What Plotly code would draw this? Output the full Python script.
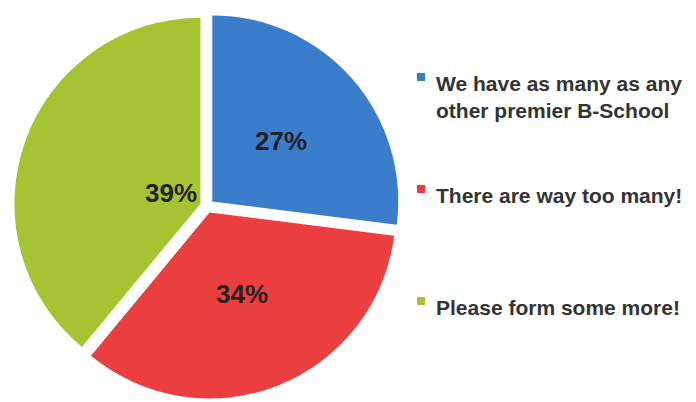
import math
import plotly.graph_objects as go

# ---- data ----
labels = ["We have as many as any<br>other premier B-School",
          "There are way too many!",
          "Please form some more!"]
values = [27, 34, 39]
colors = ["#3a7ecb", "#ea3e3f", "#a6c332"]

# ---- styling / geometry ----
W, H = 696, 402
CX, CY, R = 207, 206, 186          # pie centre (px) and radius (px)
PULL = 0.0376
label_rfrac = [0.49, 0.47, 0.17]   # radial placement of percentage labels

def px_x(x):
    return x / W

def px_y(y):
    return 1 - y / H

rmax = R * (1 + PULL)

fig = go.Figure()
fig.add_trace(go.Pie(
    labels=labels,
    values=values,
    sort=False,
    direction="clockwise",
    rotation=0,
    pull=[PULL] * len(values),
    marker=dict(colors=colors, line=dict(width=0)),
    textinfo="none",
    domain=dict(x=[px_x(CX - rmax), px_x(CX + rmax)], y=[px_y(CY + rmax), px_y(CY - rmax)]),
    showlegend=False,
    hoverinfo="label+percent",
))

# percentage labels, positioned from the slice angles
total = sum(values)
cum = 0
for v, rf in zip(values, label_rfrac):
    mid = (cum + v / 2) / total * 2 * math.pi   # clockwise from 12 o'clock
    cum += v
    d = PULL * R
    ox, oy = d * math.sin(mid), -d * math.cos(mid)
    lx = CX + ox + rf * R * math.sin(mid)
    ly = CY + oy - rf * R * math.cos(mid)
    fig.add_annotation(x=px_x(lx), y=px_y(ly), xref="paper", yref="paper",
                       xanchor="center", yanchor="middle", showarrow=False,
                       text=f"{round(v / total * 100)}%",
                       font=dict(family="Liberation Sans", size=26, color="#222222", weight="bold"))

# custom legend (spacing as in the reference)
legend_y = [83, 195, 307]   # text centre of first line, px from top
for lab, col, yc in zip(labels, colors, legend_y):
    fig.add_shape(type="rect", xref="paper", yref="paper",
                  x0=px_x(417), x1=px_x(425), y0=px_y(yc - 2), y1=px_y(yc - 10),
                  fillcolor=col, line=dict(width=0))
    fig.add_annotation(x=px_x(434), y=px_y(yc - 13), xref="paper", yref="paper",
                       xanchor="left", yanchor="top", align="left",
                       text=lab, showarrow=False,
                       font=dict(family="Liberation Sans", size=21, color="#333333", weight="bold"))

fig.update_layout(
    width=W, height=H,
    margin=dict(l=0, r=0, t=0, b=0),
    paper_bgcolor="white",
    plot_bgcolor="white",
)

fig.write_html("out.html")
